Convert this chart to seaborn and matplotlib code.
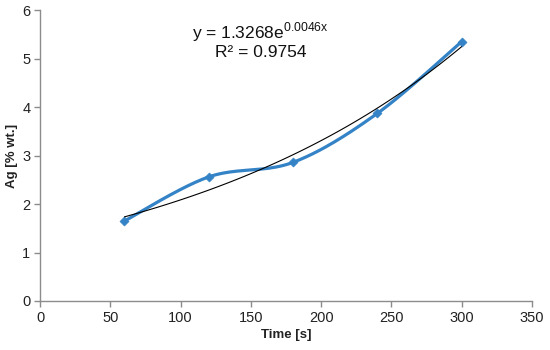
import numpy as np
import pandas as pd
import matplotlib
matplotlib.use("Agg")
import matplotlib.pyplot as plt
import seaborn as sns

# data
time_s = [60, 120, 180, 240, 300]
ag_wt = [1.65, 2.56, 2.86, 3.87, 5.35]
fit_label = r"y = 1.3268e$^{\mathrm{0.0046x}}$"
r2_label = "R² = 0.9754"

sns.set_style("white")
plt.rcParams['font.family'] = ['Liberation Sans', 'DejaVu Sans']
plt.rcParams['mathtext.fontset'] = 'custom'
plt.rcParams['mathtext.rm'] = 'Liberation Sans'


def smooth_curve(x, y, n=40):
    # excel-like smoothed line (catmull-rom through the points)
    x = np.asarray(x, float)
    y = np.asarray(y, float)
    px = np.concatenate([[x[0]], x, [x[-1]]])
    py = np.concatenate([[y[0]], y, [y[-1]]])
    xs, ys = [], []
    t = np.linspace(0, 1, n)
    for i in range(1, len(px) - 2):
        p0, p1, p2, p3 = [np.array([px[j], py[j]]) for j in range(i - 1, i + 3)]
        c1 = p1 + (p2 - p0) / 6
        c2 = p2 - (p3 - p1) / 6
        seg = ((1 - t) ** 3)[:, None] * p1 + (3 * (1 - t) ** 2 * t)[:, None] * c1 \
            + (3 * (1 - t) * t ** 2)[:, None] * c2 + (t ** 3)[:, None] * p2
        xs.append(seg[:, 0])
        ys.append(seg[:, 1])
    return np.concatenate(xs), np.concatenate(ys)


df = pd.DataFrame({'time': time_s, 'ag': ag_wt})
sx, sy = smooth_curve(time_s, ag_wt)

# exponential trendline fitted to the data
b, ln_a = np.polyfit(df['time'], np.log(df['ag']), 1)
tx = np.linspace(min(time_s), max(time_s), 100)
ty = np.exp(ln_a) * np.exp(b * tx)

fig = plt.figure(figsize=(5.5, 3.5), dpi=100)
ax = fig.add_axes([0.073, 0.14, 0.894, 0.831])

blue = '#3483C6'
sns.lineplot(x=sx, y=sy, sort=False, color=blue, linewidth=2.3, ax=ax)
sns.scatterplot(data=df, x='time', y='ag', marker='D', s=22, color=blue,
                edgecolor=blue, zorder=3, ax=ax)
sns.lineplot(x=tx, y=ty, color='black', linewidth=0.8, ax=ax, zorder=4)

ax.set_xlim(0, 350)
ax.set_ylim(0, 6)
ax.set_xticks(range(0, 351, 50))
ax.set_yticks(range(0, 7))
ax.set_xlabel('Time [s]', fontsize=9.5, fontweight='bold', color='#222222', labelpad=3)
ax.set_ylabel('Ag [% wt.]', fontsize=9.5, fontweight='bold', color='#222222', labelpad=3)

for s in ['top', 'right']:
    ax.spines[s].set_visible(False)
for s in ['left', 'bottom']:
    ax.spines[s].set_color('#8c8c8c')
    ax.spines[s].set_linewidth(1.0)
ax.tick_params(axis='both', direction='out', length=4, width=1, color='#8c8c8c',
               labelsize=10.5, labelcolor='#222222', left=True, bottom=True, pad=3)

ax.text(157, 5.55, fit_label, ha='center', va='center', fontsize=12.5, color='#111111')
ax.text(157, 5.12, r2_label, ha='center', va='center', fontsize=12.5, color='#111111')

fig.savefig('out.png', dpi=100)
